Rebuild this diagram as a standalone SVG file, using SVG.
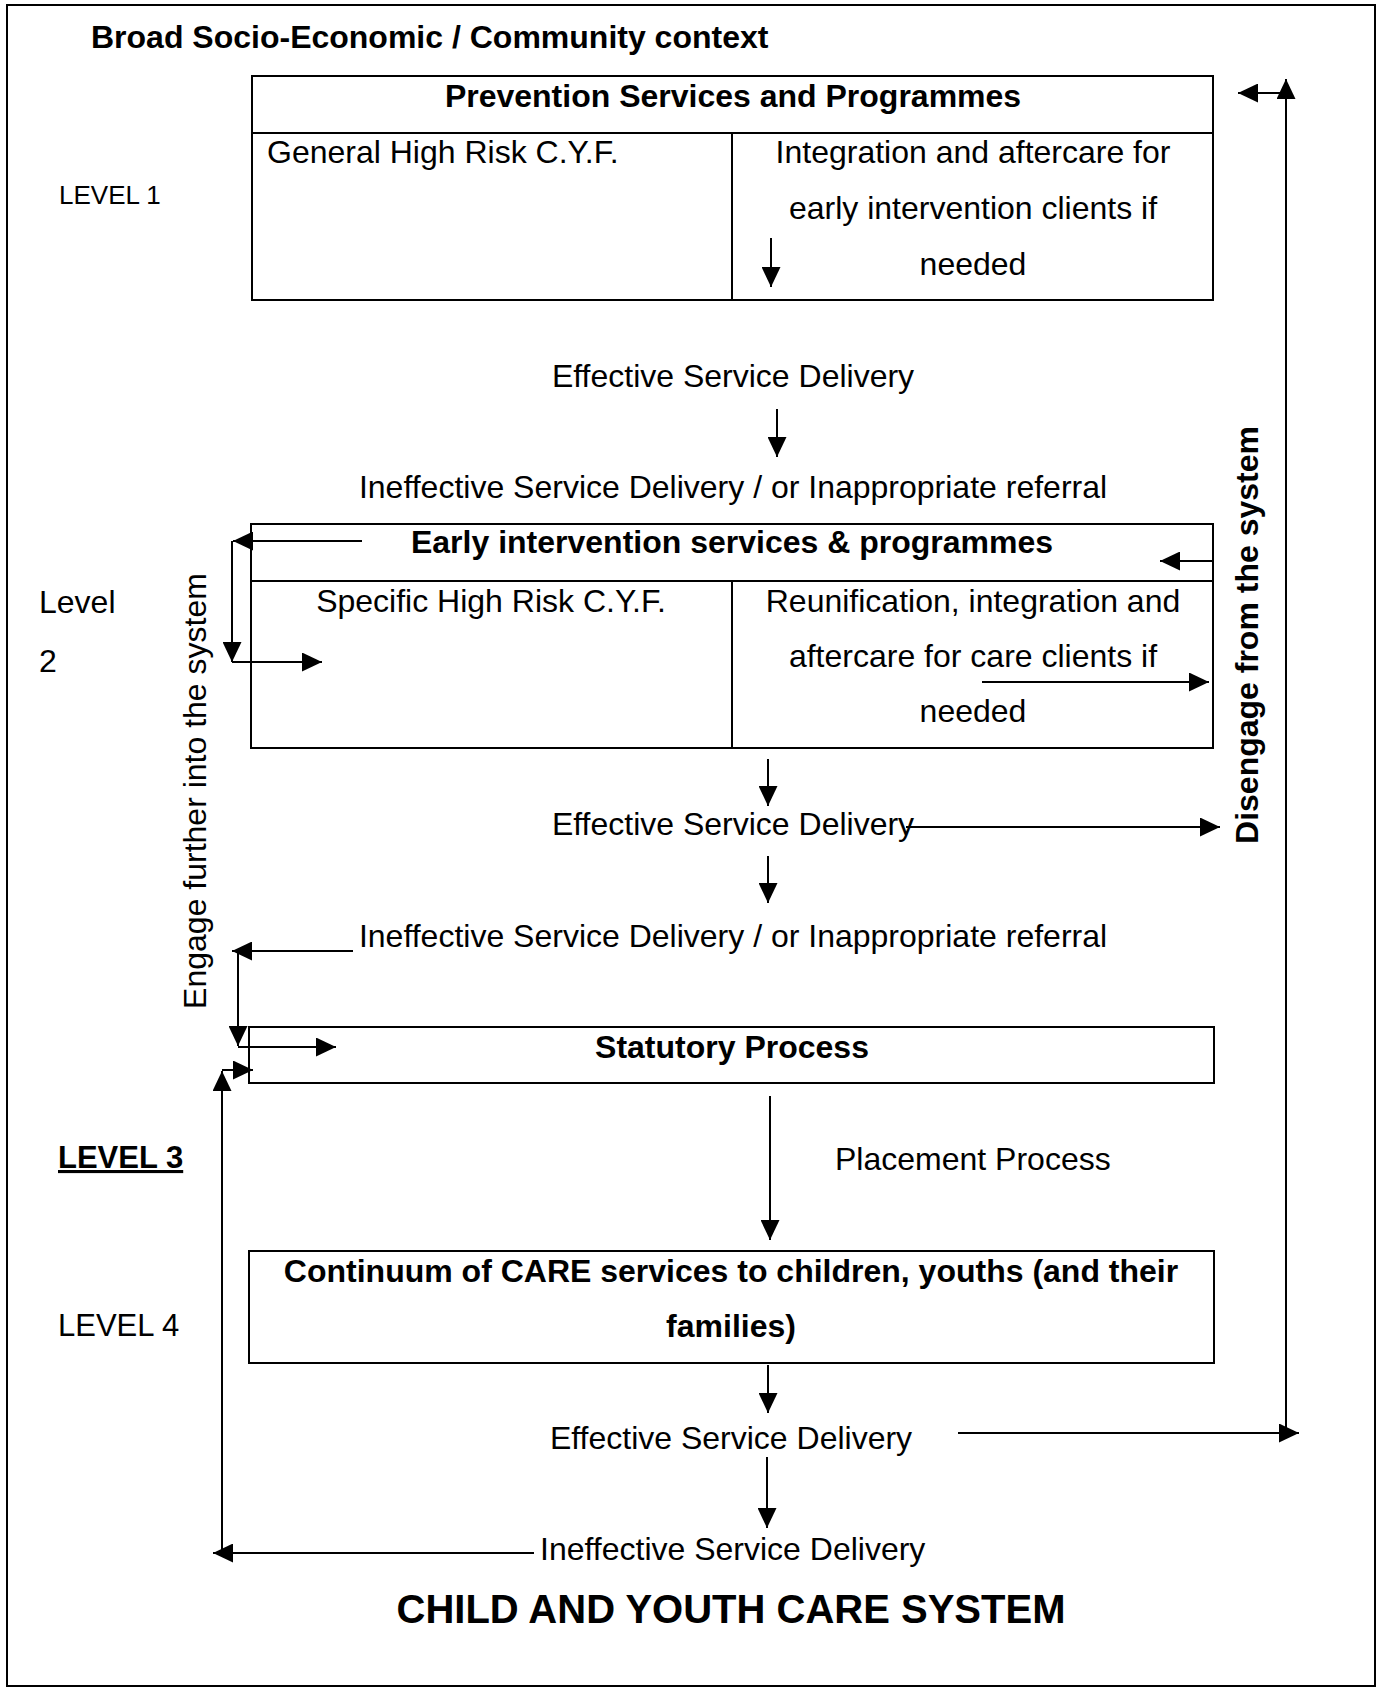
<svg xmlns="http://www.w3.org/2000/svg" width="1385" height="1688" viewBox="0 0 1385 1688">
<style>
text{font-family:"Liberation Sans",Arial,sans-serif;font-size:32px;fill:#000}
.b{font-weight:bold}
.m{text-anchor:middle}
.box{fill:none;stroke:#000;stroke-width:2}
.ln{fill:none;stroke:#000;stroke-width:2}
.c line{stroke:#000;stroke-width:2;marker-end:url(#ah)}
.c line.n{marker-end:none}
</style>
<defs>
<marker id="ah" markerUnits="userSpaceOnUse" markerWidth="20" markerHeight="19" refX="20" refY="9.5" orient="auto">
<path d="M0,0 L20,9.5 L0,19 z" fill="#000"/>
</marker>
</defs>
<rect width="1385" height="1688" fill="#fff"/>
<rect id="frame" x="7" y="5" width="1368" height="1681" class="box"/>

<g id="labels">
<text x="91" y="48" class="b">Broad Socio-Economic / Community context</text>
<text x="59" y="204" style="font-size:26px">LEVEL 1</text>
<text x="39" y="613">Level</text>
<text x="39" y="672">2</text>
<text x="58" y="1168" class="b" style="font-size:31px;text-decoration:underline">LEVEL 3</text>
<text x="58" y="1336" style="font-size:31px">LEVEL 4</text>
<text transform="translate(206,791) rotate(-90)" class="m">Engage further into the system</text>
<text transform="translate(1258,635) rotate(-90)" class="m b">Disengage from the system</text>
<text x="733" y="387" class="m">Effective Service Delivery</text>
<text x="733" y="498" class="m">Ineffective Service Delivery / or Inappropriate referral</text>
<text x="733" y="835" class="m">Effective Service Delivery</text>
<text x="733" y="947" class="m">Ineffective Service Delivery / or Inappropriate referral</text>
<text x="835" y="1170">Placement Process</text>
<text x="731" y="1449" class="m">Effective Service Delivery</text>
<text x="540" y="1560">Ineffective Service Delivery</text>
<text x="731" y="1623" class="m b" style="font-size:40px">CHILD AND YOUTH CARE SYSTEM</text>
</g>

<g id="prevention">
<rect x="252" y="76" width="961" height="224" class="box"/>
<line x1="252" y1="133" x2="1213" y2="133" class="ln"/>
<line x1="732" y1="133" x2="732" y2="300" class="ln"/>
<text x="733" y="107" class="m b">Prevention Services and Programmes</text>
<text x="267" y="163">General High Risk C.Y.F.</text>
<text x="973" y="163" class="m">Integration and aftercare for</text>
<text x="973" y="219" class="m">early intervention clients if</text>
<text x="973" y="275" class="m">needed</text>
</g>

<g id="early">
<rect x="251" y="524" width="962" height="224" class="box"/>
<line x1="251" y1="581" x2="1213" y2="581" class="ln"/>
<line x1="732" y1="581" x2="732" y2="748" class="ln"/>
<text x="732" y="553" class="m b">Early intervention services &amp; programmes</text>
<text x="491" y="612" class="m">Specific High Risk C.Y.F.</text>
<text x="973" y="612" class="m">Reunification, integration and</text>
<text x="973" y="667" class="m">aftercare for care clients if</text>
<text x="973" y="722" class="m">needed</text>
</g>

<g id="statutory">
<rect x="249" y="1027" width="965" height="56" class="box"/>
<text x="732" y="1058" class="m b">Statutory Process</text>
</g>

<g id="continuum">
<rect x="249" y="1251" width="965" height="112" class="box"/>
<text x="731" y="1282" class="m b">Continuum of CARE services to children, youths (and their</text>
<text x="731" y="1337" class="m b">families)</text>
</g>

<g id="connectors" class="c">
<line x1="771" y1="238" x2="771" y2="287"/>
<line x1="777" y1="409" x2="777" y2="457"/>
<line x1="362" y1="541" x2="233" y2="541"/>
<line x1="232" y1="541" x2="232" y2="662"/>
<line x1="232" y1="662" x2="322" y2="662"/>
<line x1="1213" y1="561" x2="1160" y2="561"/>
<line x1="982" y1="682" x2="1209" y2="682"/>
<line x1="768" y1="759" x2="768" y2="806"/>
<line x1="906" y1="827" x2="1220" y2="827"/>
<line x1="768" y1="856" x2="768" y2="903"/>
<line x1="353" y1="951" x2="232" y2="951"/>
<line x1="238" y1="951" x2="238" y2="1046"/>
<line x1="238" y1="1047" x2="336" y2="1047"/>
<line x1="222" y1="1553" x2="222" y2="1071"/>
<line x1="222" y1="1070" x2="253" y2="1070"/>
<line x1="770" y1="1096" x2="770" y2="1240"/>
<line x1="768" y1="1365" x2="768" y2="1413"/>
<line x1="958" y1="1433" x2="1299" y2="1433"/>
<line x1="767" y1="1457" x2="767" y2="1528"/>
<line x1="534" y1="1553" x2="213" y2="1553"/>
<line x1="1286" y1="1433" x2="1286" y2="79"/>
<line x1="1286" y1="93" x2="1238" y2="93"/>
</g>
</svg>
